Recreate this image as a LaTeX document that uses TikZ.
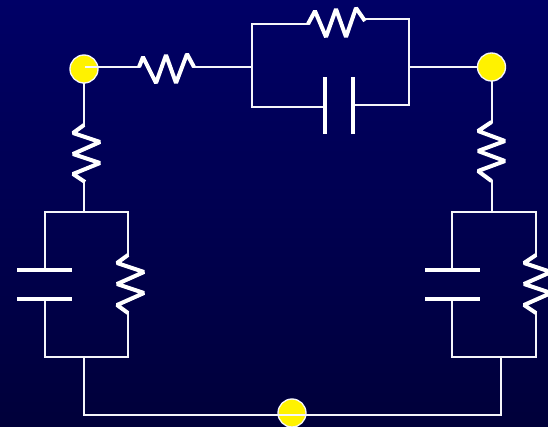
\documentclass[tikz,border=0pt]{standalone}
\definecolor{bgtop}{RGB}{0,0,102}
\definecolor{bgbot}{RGB}{0,0,58}
\definecolor{wire}{RGB}{245,245,250}
\tikzset{
  x=0.75pt,y=-0.75pt,
  wireline/.style={draw=wire,line width=1.5pt,line cap=rect,line join=miter},
  zigzag/.style={draw=white,line width=3pt,line join=bevel},
  plate/.style={draw=white,line width=3pt},
  junction/.style={circle,fill=yellow,draw=wire,line width=1pt,minimum size=21pt,inner sep=0pt}
}
\begin{document}
\begin{tikzpicture}
\useasboundingbox (0,0) rectangle (548,426);
\clip (0,0) rectangle (548,426);
\shade[top color=bgtop,bottom color=bgbot] (0,0) rectangle (548,426);

% junctions
\node[junction] (nL) at (84,69) {};
\node[junction] (nR) at (491.5,67) {};
\node[junction] (nB) at (292,413) {};

% named points
\coordinate (a0) at (86,67);
\coordinate (r1a) at (139,67);
\coordinate (r1b) at (194,67);
\coordinate (tlm) at (251.5,67);
\coordinate (tl) at (251.5,24);
\coordinate (bl) at (251.5,107);
\coordinate (r2a) at (308,24);
\coordinate (r2b) at (365,21);
\coordinate (r2c) at (365,18.5);
\coordinate (tr) at (409,18.5);
\coordinate (trm) at (409,67);
\coordinate (br) at (409,105);
\coordinate (c1a) at (325,107);
\coordinate (c1b) at (353,105);
\coordinate (r3a) at (84,125);
\coordinate (r3b) at (85,182);
\coordinate (r3c) at (84,183);
\coordinate (lt) at (84,212);
\coordinate (ltl) at (44.5,212);
\coordinate (ltr) at (128,212);
\coordinate (lbl) at (44.5,357);
\coordinate (lbr) at (128,357);
\coordinate (lb) at (84,357);
\coordinate (c2a) at (44.5,270);
\coordinate (c2b) at (44.5,299);
\coordinate (r4a) at (128,255);
\coordinate (r4b) at (128,313);
\coordinate (r5a) at (491.5,122);
\coordinate (r5b) at (491.5,181);
\coordinate (rt) at (491.5,212);
\coordinate (rtl) at (452,212);
\coordinate (rtr) at (536,212);
\coordinate (rbl) at (452,357);
\coordinate (rbr) at (536,357);
\coordinate (rb) at (501,357);
\coordinate (c3a) at (452,270);
\coordinate (c3b) at (452,299);
\coordinate (r6a) at (536,255);
\coordinate (r6b) at (536,313);
\coordinate (fl) at (84,415);
\coordinate (fr) at (501,415);

% wires
\draw[wireline] (a0) -- (r1a);
\draw[wireline] (r1b) -- (tlm);
\draw[wireline] (r2a) -- (tl) -- (bl) -- (c1a);
\draw[wireline] (r2c) -- (tr) -- (br) -- (c1b);
\draw[wireline] (trm) -- (nR.west);
\draw[wireline] (nL.south) -- (r3a);
\draw[wireline] (r3c) -- (lt);
\draw[wireline] (c2a) -- (ltl) -- (ltr) -- (r4a);
\draw[wireline] (c2b) -- (lbl) -- (lbr) -- (r4b);
\draw[wireline] (nR.south) -- (r5a);
\draw[wireline] (r5b) -- (rt);
\draw[wireline] (c3a) -- (rtl) -- (rtr) -- (r6a);
\draw[wireline] (c3b) -- (rbl) -- (rbr) -- (r6b);
\draw[wireline] (lb) -- (fl) -- (fr) -- (rb);

% resistors
\draw[zigzag] (r1a) -- (143,57) -- (156,83) -- (166,55) -- (176,83) -- (187,54) -- (r1b);
\draw[zigzag] (r2a) -- (315,11) -- (326,37) -- (336,9) -- (346,37) -- (356,8) -- (r2b);
\draw[zigzag] (r3a) -- (73,133) -- (100,142) -- (73,154) -- (100,163) -- (73,174) -- (r3b);
\draw[zigzag] (r4a) -- (117,263) -- (144,272) -- (117,284) -- (144,293) -- (117,305) -- (r4b);
\draw[zigzag] (r5a) -- (478,131) -- (505,141) -- (478,151) -- (505,161) -- (478,171) -- (r5b);
\draw[zigzag] (r6a) -- (524,263) -- (551,272) -- (524,284) -- (551,293) -- (524,305) -- (r6b);

% capacitors
\draw[plate] (325,77) -- (325,134);
\draw[plate] (353,77) -- (353,134);
\draw[plate] (17,270) -- (72,270);
\draw[plate] (17,299) -- (72,299);
\draw[plate] (425,270) -- (480,270);
\draw[plate] (425,299) -- (480,299);
\end{tikzpicture}
\end{document}
